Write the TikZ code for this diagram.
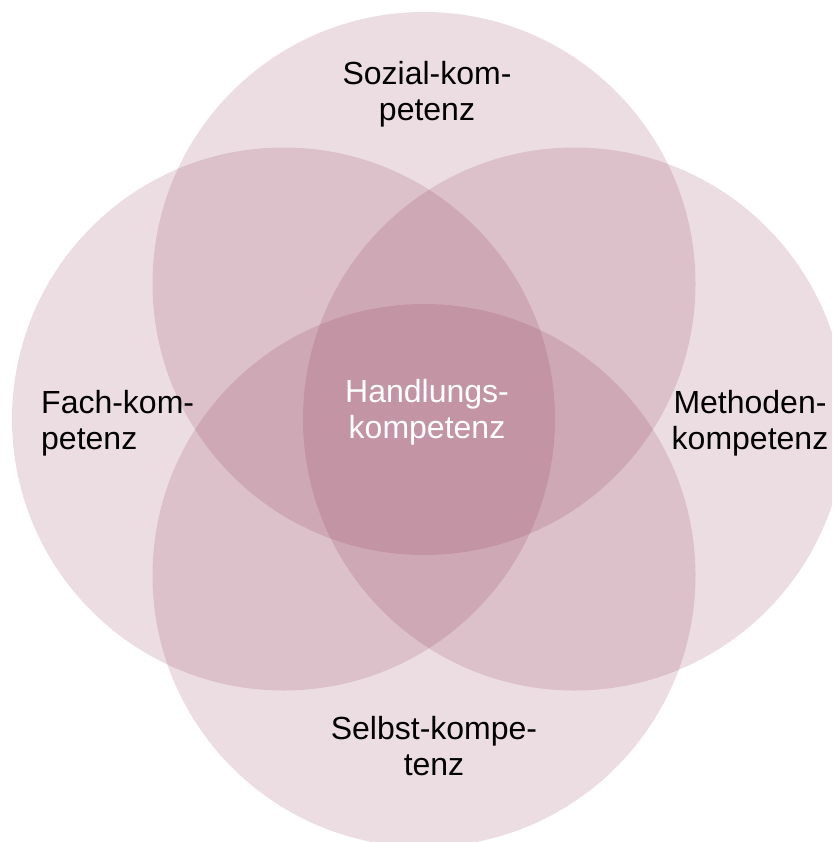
\documentclass[tikz,border=0pt]{standalone}
\usepackage{fontspec}
\setmainfont{Liberation Sans}
\usepackage{xcolor}
\definecolor{berry}{RGB}{135,43,74}

\tikzset{
    venn/.style={fill=berry, fill opacity=0.16},
    label/.style={font=\fontsize{32pt}{36pt}\selectfont, align=center, inner sep=0pt}
}

\begin{document}
\begin{tikzpicture}[x=1pt, y=-1pt]
    \useasboundingbox (0,0) rectangle (832,842);
    \clip (0,0) rectangle (832,842);

    % Four overlapping circles
    \fill[venn] (424,283.5) circle[radius=271.5pt];   % top
    \fill[venn] (283.5,419) circle[radius=271.5pt];   % left
    \fill[venn] (574.5,419) circle[radius=271.5pt];   % right
    \fill[venn] (424,575.5) circle[radius=271.5pt];   % bottom

    % Labels
    \node[label] (sozial) at (427,94) {Sozial-kom-\\petenz};
    \node[label, align=left, anchor=west] (fach) at (41,423) {Fach-kom-\\petenz};
    \node[label] (methoden) at (750,423) {Methoden-\\kompetenz};
    \node[label] (selbst) at (434,746) {Selbst-kompe-\\tenz};
    \node[label, text=white] (handlung) at (427,412) {Handlungs-\\kompetenz};
\end{tikzpicture}
\end{document}
